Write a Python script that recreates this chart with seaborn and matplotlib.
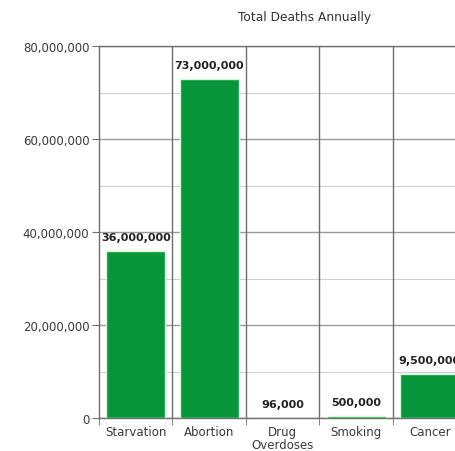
import matplotlib
matplotlib.use("Agg")
import matplotlib.pyplot as plt
import seaborn as sns
import pandas as pd
from matplotlib.ticker import MultipleLocator, FuncFormatter

# Chart data
causes = ["Starvation", "Abortion", "Drug\nOverdoses", "Smoking", "Cancer"]
deaths = [36000000, 73000000, 96000, 500000, 9500000]

df = pd.DataFrame({"Cause": causes, "Deaths": deaths})

sns.set_style("white")
plt.rcParams['font.family'] = ['DejaVu Sans']

fig = plt.figure(figsize=(4.56, 4.52), dpi=100)
# axes run past the right edge of the figure, as in the reference crop
ax = fig.add_axes([99 / 456, 33 / 452, 367.5 / 456, 372 / 452])

sns.barplot(data=df, x="Cause", y="Deaths", color="#07973a", width=0.8,
            edgecolor="#d8f5d8", linewidth=1.0, saturation=1, ax=ax, zorder=3)

ax.set_ylim(0, 80000000)
ax.set_xlim(-0.5, len(causes) - 0.5)
ax.yaxis.set_major_locator(MultipleLocator(20000000))
ax.yaxis.set_minor_locator(MultipleLocator(10000000))
ax.yaxis.set_major_formatter(FuncFormatter(lambda v, p: f"{int(v):,}"))

# horizontal grid: darker at majors, lighter at minors
ax.grid(axis="y", which="major", color="#9a9a9a", linewidth=1.0, zorder=0)
ax.grid(axis="y", which="minor", color="#d0d0d0", linewidth=0.8, zorder=0)

# vertical separators between categories
for i in range(1, len(causes) + 1):
    ax.axvline(i - 0.5, color="#6e6e6e", linewidth=1.0, zorder=1)

ax.set_xticks([i - 0.5 for i in range(len(causes) + 1)], minor=True)
ax.tick_params(axis="x", which="major", length=0, labelsize=8.5, colors="#3a3a3a", pad=5)
ax.tick_params(axis="x", which="minor", length=5, color="#6e6e6e", direction="out", bottom=True)
ax.tick_params(axis="y", which="major", length=5, color="#6e6e6e", left=True,
               labelsize=8.5, colors="#3a3a3a", pad=2)
ax.tick_params(axis="y", which="minor", length=0)
for lbl in ax.get_xticklabels():
    lbl.set_linespacing(1.0)

for side in ["left", "bottom", "top"]:
    ax.spines[side].set_visible(True)
    ax.spines[side].set_color("#6e6e6e")
    ax.spines[side].set_linewidth(1.0)
ax.spines["right"].set_visible(False)

ax.set_xlabel("")
ax.set_ylabel("")

# value labels; the last one runs off the right edge just like the reference
ax.bar_label(ax.containers[0], labels=[f"{v:,}" for v in deaths], padding=6,
             fontsize=8, fontweight="bold", color="#222222")

fig.text(305 / 456, 1 - 17 / 452, "Total Deaths Annually", ha="center", va="center",
         fontsize=8.8, color="#333333")

fig.savefig("out.png", dpi=100)
